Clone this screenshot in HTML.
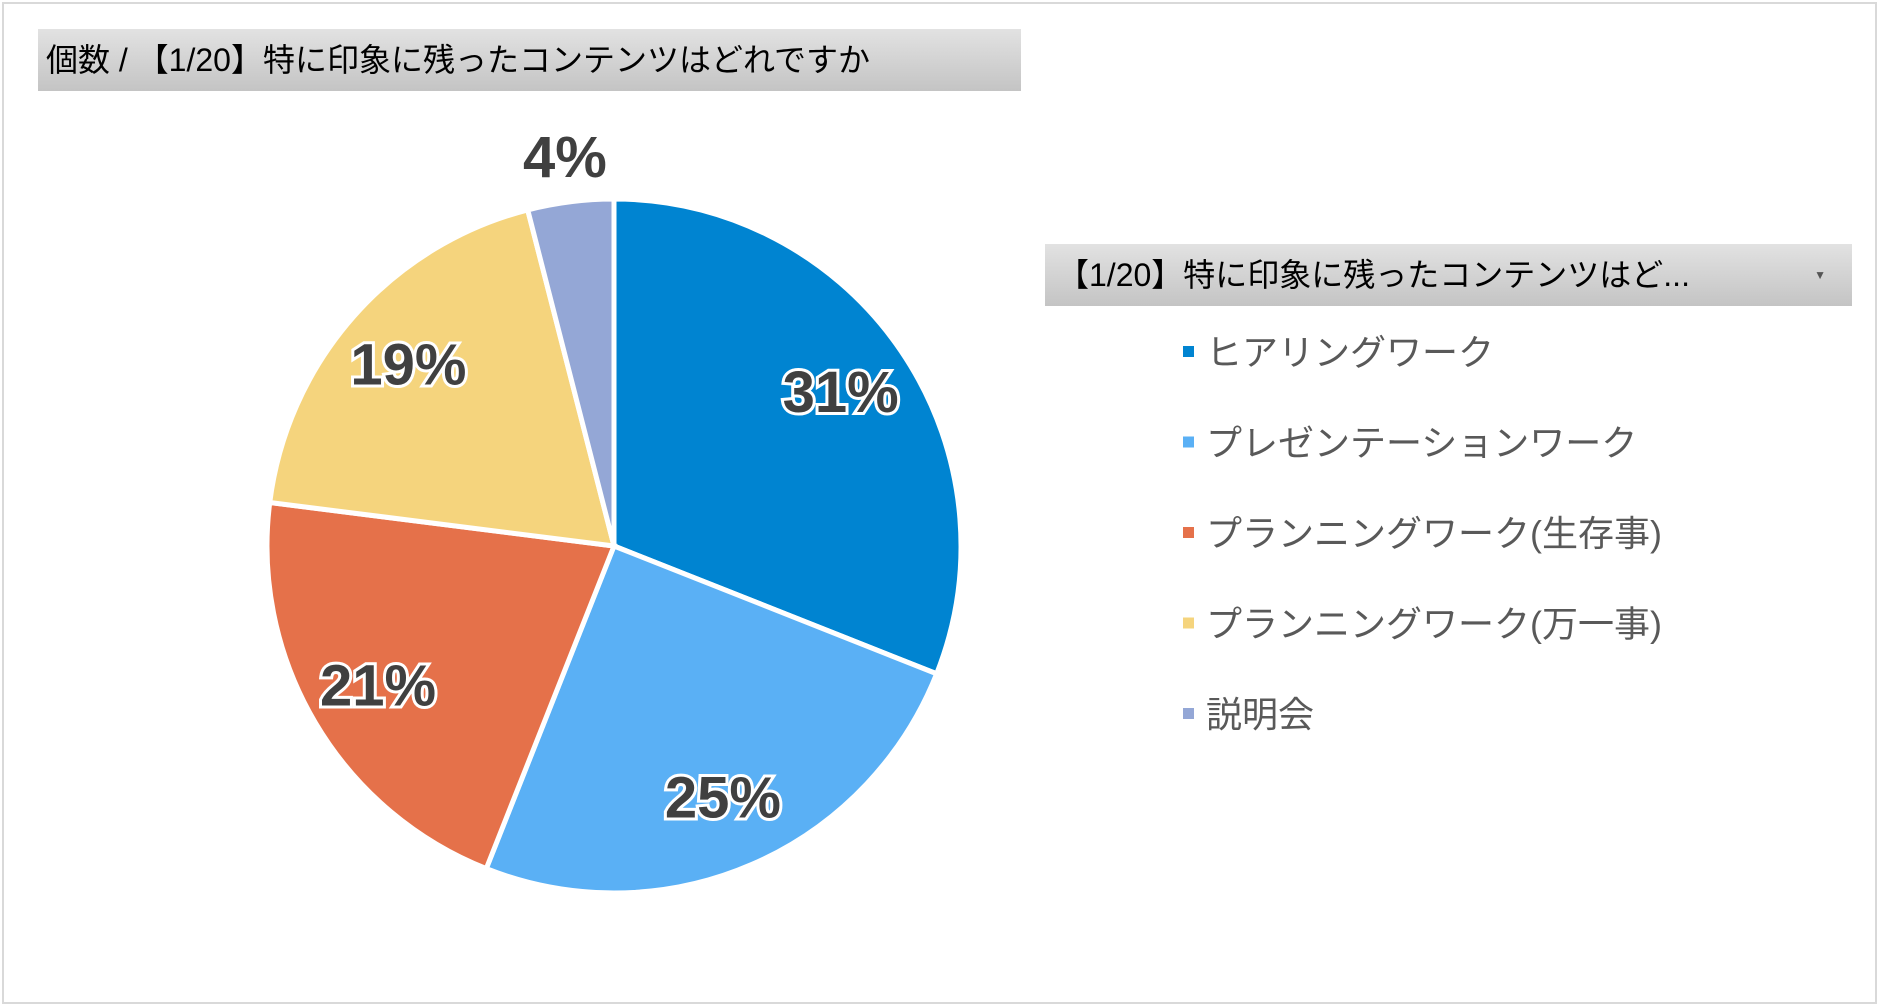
<!DOCTYPE html>
<html><head><meta charset="utf-8"><style>
body{margin:0;width:1881px;height:1008px;background:#fff;overflow:hidden;font-family:"Liberation Sans","Noto Sans CJK JP",sans-serif}
#frame{position:absolute;left:2px;top:2px;width:1875px;height:1002px;border:2px solid #d9d9d9;box-sizing:border-box}
.bar{position:absolute;background:linear-gradient(#e2e2e2,#c4c4c4);color:#000;box-sizing:border-box}
</style></head><body>
<div id="frame"></div>
<div class="bar" style="left:38px;top:29px;width:983px;height:62px;font-size:32px;line-height:62px;padding-left:8px">個数 / 【1/20】特に印象に残ったコンテンツはどれですか</div>
<div class="bar" style="left:1045px;top:244px;width:807px;height:62px;font-size:32px;line-height:62px;padding-left:12px">【1/20】特に印象に残ったコンテンツはど...<span style="position:absolute;right:26px;font-size:12px;color:#555">▼</span></div>
<svg id="chart" width="1881" height="1008" style="position:absolute;left:0;top:0;pointer-events:none"></svg>
<script>
const categories=["ヒアリングワーク","プレゼンテーションワーク","プランニングワーク(生存事)","プランニングワーク(万一事)","説明会"];
const values=[31,25,21,19,4];
const labels=["31%","25%","21%","19%","4%"];
const colors=["#0084d1","#5ab0f5","#e5714a","#f5d47d","#94a7d6"];
const svg=document.getElementById('chart');const NS="http://www.w3.org/2000/svg";
const cx=614,cy=546,r=347;
const total=values.reduce((a,b)=>a+b,0);
let a0=0;
function pt(a,rr){return [cx+rr*Math.sin(a),cy-rr*Math.cos(a)];}
const labelR=[0.79,0.79,0.79,0.79,1.13];
values.forEach((v,i)=>{
  const a1=a0+v/total*2*Math.PI;
  const p0=pt(a0,r),p1=pt(a1,r);
  const path=document.createElementNS(NS,'path');
  path.setAttribute('d',`M${cx},${cy}L${p0[0]},${p0[1]}A${r},${r} 0 ${a1-a0>Math.PI?1:0} 1 ${p1[0]},${p1[1]}Z`);
  path.setAttribute('fill',colors[i]);path.setAttribute('stroke','#fff');path.setAttribute('stroke-width','5');
  
  
  svg.appendChild(path);
  const m=(a0+a1)/2;const lp=pt(m,r*labelR[i]);
  const t=document.createElementNS(NS,'text');
  t.setAttribute('x',lp[0]);t.setAttribute('y',lp[1]+20);t.setAttribute('text-anchor','middle');
  t.setAttribute('font-size','58');t.setAttribute('font-weight','bold');t.setAttribute('fill','#404040');
  if(i<4){t.setAttribute('stroke','#fff');t.setAttribute('stroke-width','6');t.setAttribute('paint-order','stroke');}
  t.setAttribute('font-family','"Liberation Sans",sans-serif');
  t.textContent=labels[i];
  
  
  svg.appendChild(t);
  const y=352+i*90.5;
  const sq=document.createElementNS(NS,'rect');
  sq.setAttribute('x',1183);sq.setAttribute('y',y-6);sq.setAttribute('width',11);sq.setAttribute('height',11);sq.setAttribute('fill',colors[i]);
  
  
  svg.appendChild(sq);
  const lt=document.createElementNS(NS,'text');
  lt.setAttribute('x',1206);lt.setAttribute('y',y+13);lt.setAttribute('font-size','36');lt.setAttribute('fill','#595959');
  lt.setAttribute('font-family','"Liberation Sans","Noto Sans CJK JP",sans-serif');
  lt.textContent=categories[i];
  
  
  svg.appendChild(lt);
  a0=a1;
});
</script>
</body></html>
